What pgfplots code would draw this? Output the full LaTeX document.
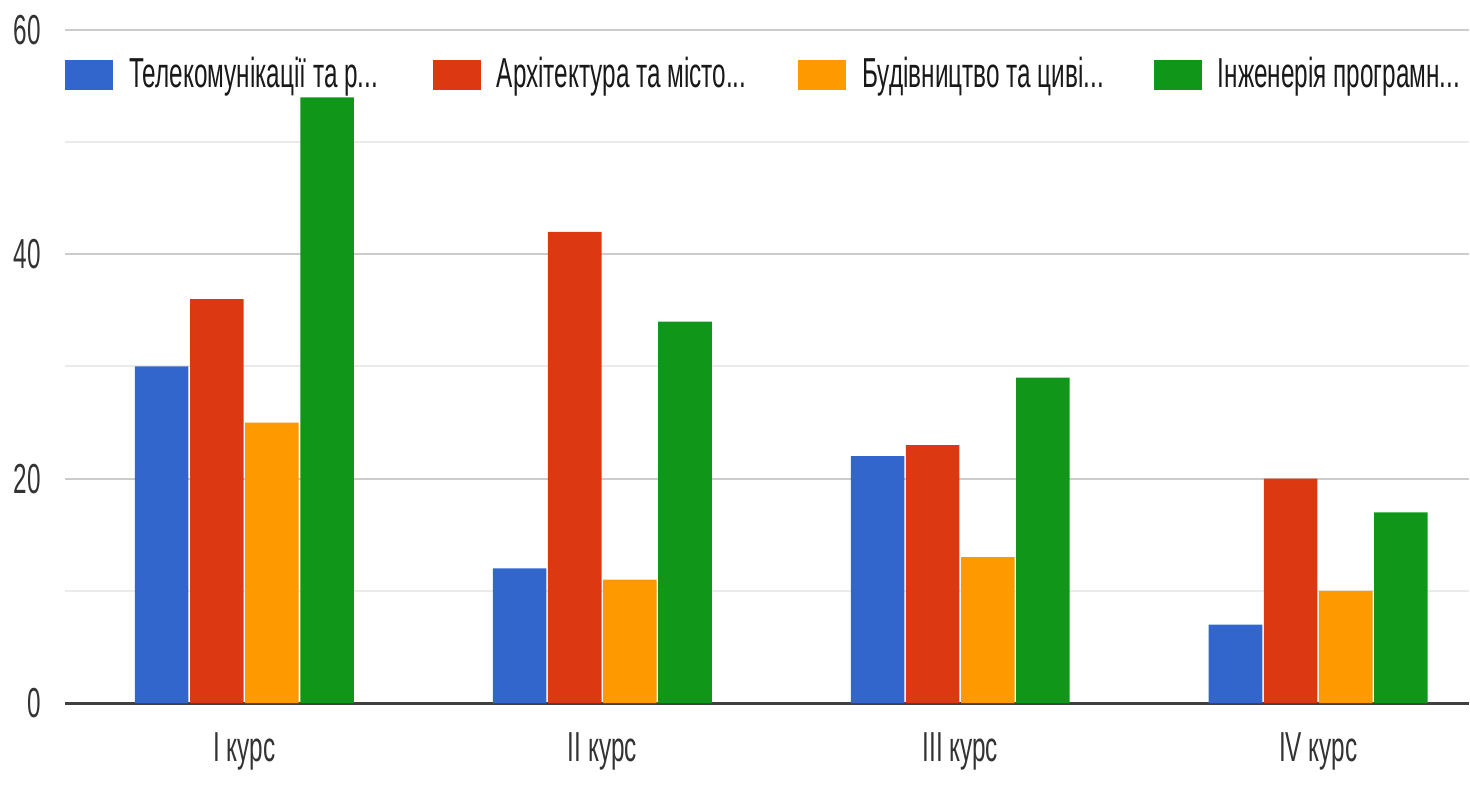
\documentclass[border=0pt]{standalone}
\usepackage{pgfplots}
\pgfplotsset{compat=1.18}
\usepackage{fontspec}
\setmainfont{Liberation Sans}[FakeStretch=0.58]
\definecolor{gblue}{HTML}{3366CC}
\definecolor{gred}{HTML}{DC3912}
\definecolor{gorange}{HTML}{FF9900}
\definecolor{ggreen}{HTML}{109618}
\begin{document}
\fontsize{21}{25}\selectfont
\begin{tikzpicture}
\begin{axis}[
  scale only axis,
  width=702.5pt, height=337pt,
  xmin=-0.5, xmax=3.42,
  ymin=0, ymax=60,
  ybar=0.8pt, bar width=26.8pt,
  xtick={0,1,2,3},
  xticklabels={I курс, II курс, III курс, IV курс},
  ytick={20,40,60},
  minor ytick={10,30,50},
  extra y ticks={0},
  extra y tick style={major grid style={color=black!75, line width=1.5pt}},
  ymajorgrids, yminorgrids,
  major grid style={color=black!20, line width=1pt},
  minor grid style={color=black!8, line width=1pt},
  axis line style={draw=none},
  tick style={draw=none},
  /pgf/number format/assume math mode=true,
  ticklabel style={font=\fontsize{21}{25}\selectfont, text=black!80},
  yticklabel style={xshift=-5pt},
  xticklabel style={yshift=-3.5pt},
  title={\rule{0pt}{15pt}},
  every axis title/.style={at={(0.5,1)}, anchor=south, inner sep=0pt, outer sep=0pt},
  legend columns=4,
  legend style={draw=none, fill=none, at={(0,0.933)}, anchor=west,
    inner sep=0pt, outer sep=0pt,
    font=\fontsize{21}{25}\selectfont, text=black!90,
    /tikz/every even column/.append style={column sep=12pt}},
  legend image code/.code={\fill[#1] (0pt,-7.5pt) rectangle (24pt,7.5pt);},
]
\addplot[fill=gblue, draw=none] coordinates {(0,30) (1,12) (2,22) (3,7)};
\addplot[fill=gred, draw=none] coordinates {(0,36) (1,42) (2,23) (3,20)};
\addplot[fill=gorange, draw=none] coordinates {(0,25) (1,11) (2,13) (3,10)};
\addplot[fill=ggreen, draw=none] coordinates {(0,54) (1,34) (2,29) (3,17)};
\legend{\makebox[144pt][l]{\hspace{6pt}Телекомунікації та р...},
        \makebox[143pt][l]{\hspace{6pt}Архітектура та місто...},
        \makebox[138pt][l]{\hspace{6pt}Будівництво та циві...},
        \makebox[110pt][l]{\hspace{6pt}Інженерія програмн...}}
\end{axis}
\end{tikzpicture}
\end{document}
